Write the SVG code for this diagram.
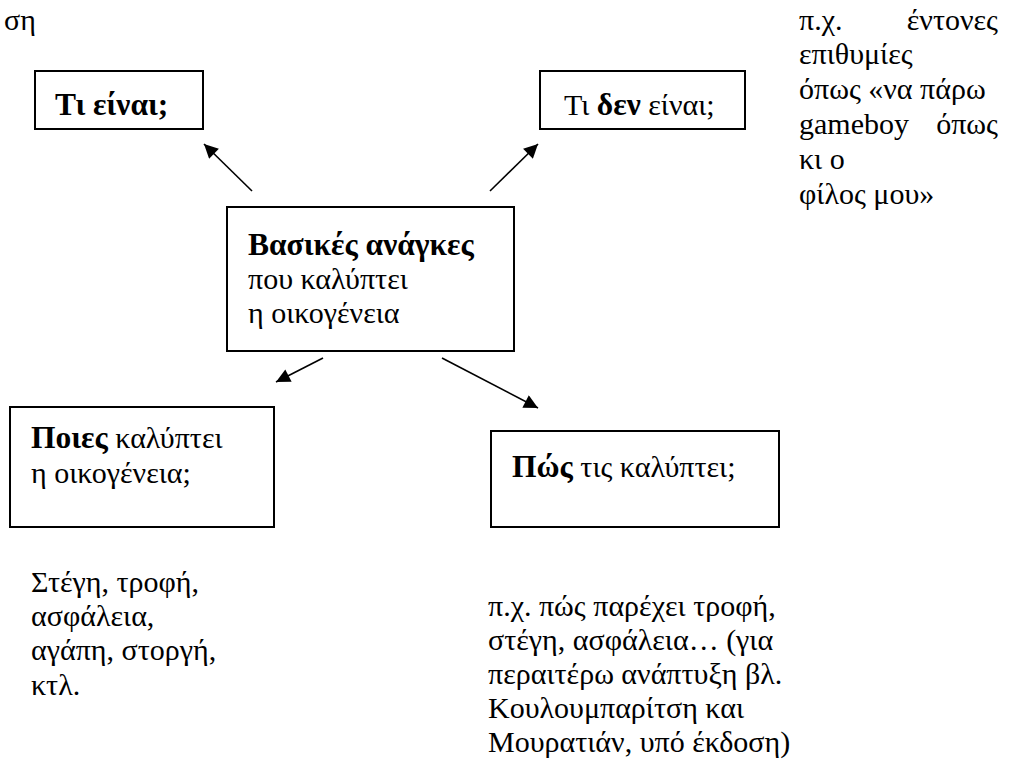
<svg xmlns="http://www.w3.org/2000/svg" width="1010" height="769" viewBox="0 0 1010 769">
<style>
text{font-family:"Liberation Serif","Times New Roman",serif;font-size:30px;fill:#000}
.b{font-weight:bold;font-size:31.5px}
.box{fill:#fff;stroke:#000;stroke-width:2}
.conn line{stroke:#000;stroke-width:1.6}
</style>
<defs>
<marker id="ah" viewBox="0 0 10 10" refX="10" refY="5" markerWidth="16" markerHeight="14" markerUnits="userSpaceOnUse" orient="auto">
<path d="M0,0 L10,5 L0,10 z" fill="#000"/>
</marker>
</defs>
<rect width="1010" height="769" fill="#fff"/>
<text x="4" y="30">ση</text>
<g id="note-right">
<text x="799" y="30">π.χ.</text><text x="998" y="30" text-anchor="end">έντονες</text>
<text x="799" y="64">επιθυμίες</text>
<text x="799" y="99">όπως «να πάρω</text>
<text x="799" y="134">gameboy</text><text x="998" y="134" text-anchor="end">όπως</text>
<text x="799" y="169">κι ο</text>
<text x="799" y="204">φίλος μου»</text>
</g>
<g id="node-ti-einai">
<rect class="box" x="35" y="71" width="168" height="58"/>
<text x="55" y="115" class="b">Τι είναι;</text>
</g>
<g id="node-ti-den-einai">
<rect class="box" x="540" y="71" width="205" height="58"/>
<text x="564" y="115">Τι <tspan class="b">δεν</tspan> είναι;</text>
</g>
<g id="node-center">
<rect class="box" x="227" y="207" width="287" height="144"/>
<text x="248" y="255" class="b">Βασικές ανάγκες</text>
<text x="248" y="289">που καλύπτει</text>
<text x="248" y="323">η οικογένεια</text>
</g>
<g id="node-poies">
<rect class="box" x="10" y="407" width="264" height="120"/>
<text x="31" y="448"><tspan class="b">Ποιες</tspan> καλύπτει</text>
<text x="31" y="483">η οικογένεια;</text>
</g>
<g id="node-pos">
<rect class="box" x="491" y="431" width="288" height="96"/>
<text x="512" y="477"><tspan class="b">Πώς</tspan> τις καλύπτει;</text>
</g>
<g id="note-left">
<text x="31" y="592">Στέγη, τροφή,</text>
<text x="31" y="626">ασφάλεια,</text>
<text x="31" y="660">αγάπη, στοργή,</text>
<text x="31" y="695">κτλ.</text>
</g>
<g id="note-bottom">
<text x="488" y="616">π.χ. πώς παρέχει τροφή,</text>
<text x="488" y="650">στέγη, ασφάλεια… (για</text>
<text x="488" y="684">περαιτέρω ανάπτυξη βλ.</text>
<text x="488" y="718">Κουλουμπαρίτση και</text>
<text x="488" y="752">Μουρατιάν, υπό έκδοση)</text>
</g>
<g class="conn" id="connectors">
<line x1="252" y1="191" x2="204" y2="144" marker-end="url(#ah)"/>
<line x1="490" y1="191" x2="538" y2="144" marker-end="url(#ah)"/>
<line x1="323" y1="358" x2="276" y2="382" marker-end="url(#ah)"/>
<line x1="442" y1="358" x2="538" y2="408" marker-end="url(#ah)"/>
</g>
</svg>
